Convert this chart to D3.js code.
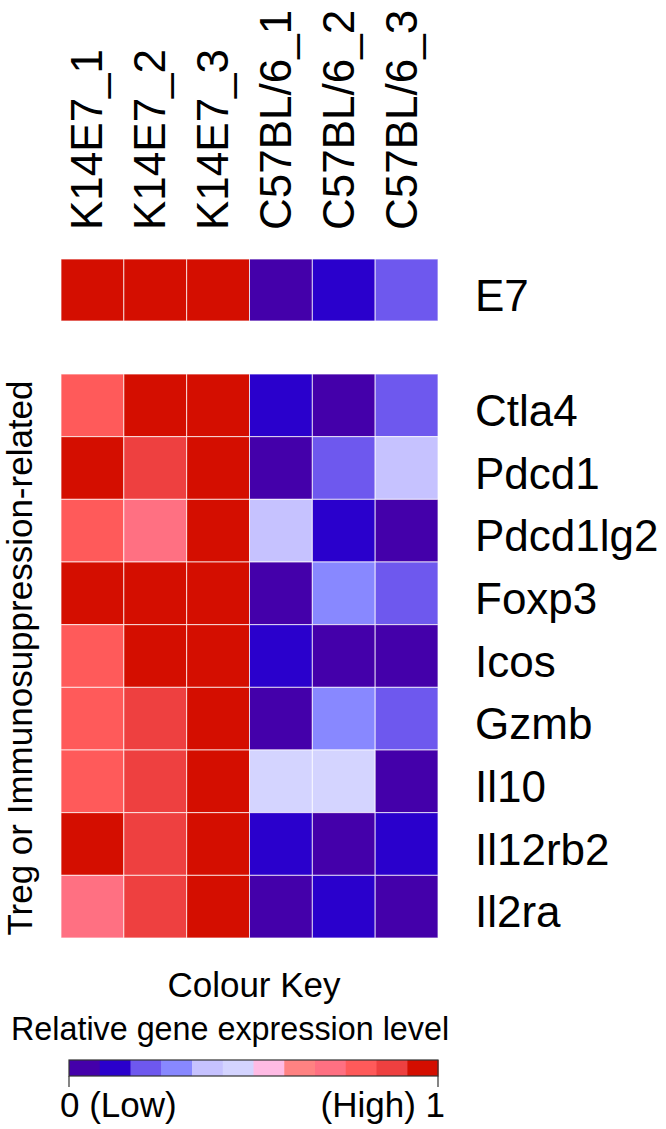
<!DOCTYPE html>
<html>
<head>
<meta charset="utf-8">
<script src="https://cdn.jsdelivr.net/npm/d3@7"></script>
<style>
html,body{margin:0;padding:0;background:#fff;}
svg{display:block;font-family:"Liberation Sans",Arial,sans-serif;}
</style>
</head>
<body>
<svg id="chart" width="666" height="1129"></svg>
<script>
const samples = ["K14E7_1","K14E7_2","K14E7_3","C57BL/6_1","C57BL/6_2","C57BL/6_3"];
const topGene = ["E7"];
const topValues = [[0.97,0.97,0.97,0.03,0.12,0.21]];
const genes = ["Ctla4","Pdcd1","Pdcd1lg2","Foxp3","Icos","Gzmb","Il10","Il12rb2","Il2ra"];
const values = [
  [0.79,0.97,0.97,0.12,0.03,0.21],
  [0.97,0.88,0.97,0.03,0.21,0.38],
  [0.79,0.71,0.97,0.38,0.12,0.03],
  [0.97,0.97,0.97,0.03,0.29,0.21],
  [0.79,0.97,0.97,0.12,0.03,0.03],
  [0.79,0.88,0.97,0.03,0.29,0.21],
  [0.79,0.88,0.97,0.46,0.46,0.03],
  [0.97,0.88,0.97,0.12,0.03,0.12],
  [0.71,0.88,0.97,0.03,0.12,0.03]
];
const keyColours = ["#4400aa","#2a00cc","#6e58ee","#8888ff","#c6c2ff","#d4d4ff",
                    "#ffbbe4","#ff8282","#ff7082","#ff5a5a","#ee4040","#d40e00"];
const keyTitle = "Colour Key";
const keySubtitle = "Relative gene expression level";
const keyLow = "0 (Low)";
const keyHigh = "(High) 1";
const yTitle = "Treg or Immunosuppression-related";

const svg = d3.select("#chart");
const colour = d3.scaleQuantize().domain([0,1]).range(keyColours);

const x = d3.scaleBand().domain(samples).range([61,438]);
const yTop = d3.scaleBand().domain(topGene).range([259,321]);
const y = d3.scaleBand().domain(genes).range([374,938]);

const cellStroke = "rgba(255,255,255,0.72)";

// column labels
svg.append("g").selectAll("text").data(samples).join("text")
  .attr("transform", d => `translate(${x(d)+x.bandwidth()/2+10},230) rotate(-90)`)
  .attr("font-size", 44).attr("fill","#000")
  .text(d => d);

// E7 row
const topCells = [];
topValues.forEach((row,i)=>row.forEach((v,j)=>topCells.push({g:topGene[i],s:samples[j],v})));
svg.append("g").selectAll("rect").data(topCells).join("rect")
  .attr("x", d=>x(d.s)).attr("y", d=>yTop(d.g))
  .attr("width", x.bandwidth()).attr("height", yTop.bandwidth())
  .attr("fill", d=>colour(d.v)).attr("stroke", cellStroke).attr("stroke-width",1);

// main heatmap
const cells = [];
values.forEach((row,i)=>row.forEach((v,j)=>cells.push({g:genes[i],s:samples[j],v})));
svg.append("g").selectAll("rect").data(cells).join("rect")
  .attr("x", d=>x(d.s)).attr("y", d=>y(d.g))
  .attr("width", x.bandwidth()).attr("height", y.bandwidth())
  .attr("fill", d=>colour(d.v)).attr("stroke", cellStroke).attr("stroke-width",1);

// row labels
svg.append("g").selectAll("text").data(topGene).join("text")
  .attr("x",475).attr("y", d=>yTop(d)+yTop.bandwidth()/2+21)
  .attr("font-size",44).text(d=>d);
svg.append("g").selectAll("text").data(genes).join("text")
  .attr("x",475).attr("y", d=>y(d)+y.bandwidth()/2+20.5)
  .attr("font-size",44).text(d=>d);

// y title
svg.append("text")
  .attr("transform", `translate(32,${(374+938)/2+2}) rotate(-90)`)
  .attr("text-anchor","middle").attr("font-size",35).text(yTitle);

// colour key
svg.append("text").attr("x",254).attr("y",997).attr("text-anchor","middle")
  .attr("font-size",35).text(keyTitle);
svg.append("text").attr("x",11).attr("y",1040)
  .attr("font-size",32.3).text(keySubtitle);

const kx = d3.scaleBand().domain(d3.range(keyColours.length)).range([69,438]);
const kv = d3.scaleLinear().domain([0,1]).range([69,438]);
svg.append("g").selectAll("rect").data(keyColours).join("rect")
  .attr("x",(d,i)=>kx(i)).attr("y",1060).attr("width",kx.bandwidth()+0.5).attr("height",16)
  .attr("fill",d=>d);
svg.append("rect").attr("x",69).attr("y",1060).attr("width",369).attr("height",16)
  .attr("fill","none").attr("stroke","#333").attr("stroke-width",1.2);
svg.append("g").selectAll("line").data([0,1]).join("line")
  .attr("x1",d=>kv(d)).attr("x2",d=>kv(d)).attr("y1",1076).attr("y2",1087)
  .attr("stroke","#333").attr("stroke-width",1.2);
svg.append("text").attr("x",60).attr("y",1117).attr("font-size",35).text(keyLow);
svg.append("text").attr("x",445).attr("y",1117).attr("text-anchor","end").attr("font-size",35).text(keyHigh);
</script>
</body>
</html>
